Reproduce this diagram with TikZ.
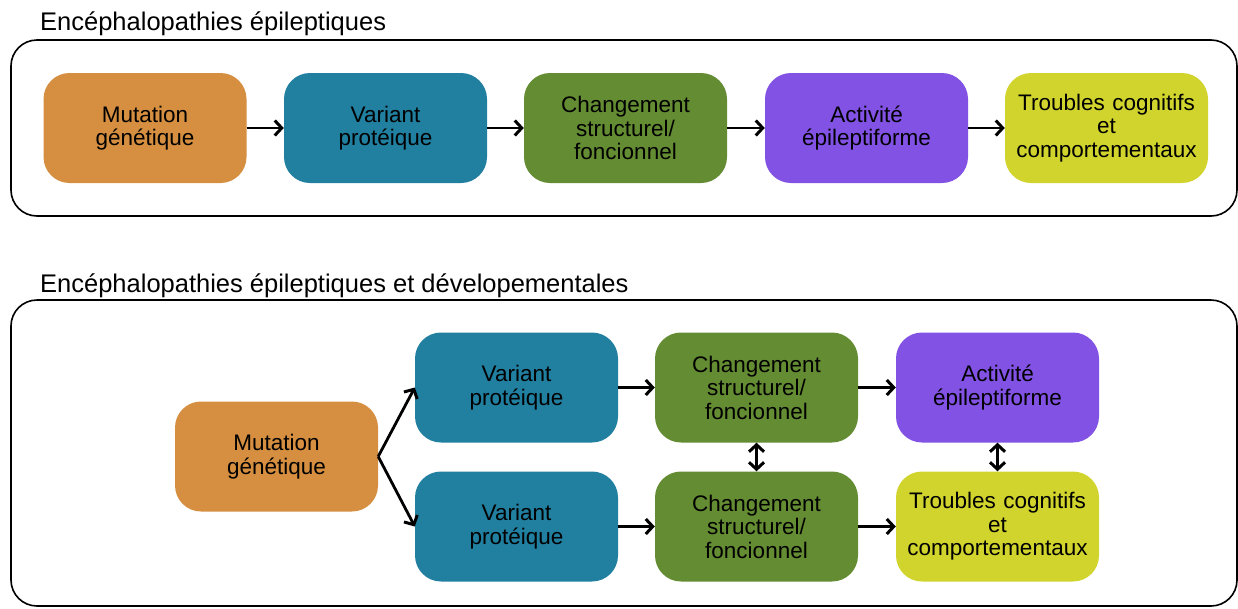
\documentclass[tikz,border=0pt]{standalone}
\usepackage{fontspec}
\setmainfont{Liberation Sans}
\usetikzlibrary{arrows.meta}
\definecolor{corange}{HTML}{D68F40}
\definecolor{cblue}{HTML}{217FA0}
\definecolor{cgreen}{HTML}{648C32}
\definecolor{cpurple}{HTML}{8252E4}
\definecolor{cyellow}{HTML}{D2D42E}
\tikzset{
  box/.style={rounded corners=26pt, minimum width=203pt, minimum height=110pt, inner sep=0pt,
    align=center, text width=200pt, font=\fontsize{22.5}{23.5}\selectfont},
  frame/.style={draw=black, line width=1.6pt, rounded corners=26pt},
  title/.style={anchor=base west, inner sep=0pt, font=\fontsize{25.5}{28}\selectfont},
  arr/.style={line width=2.8pt, -{Straight Barb[length=7pt,width=15pt,line width=3pt]}},
  darr/.style={line width=2.8pt, {Straight Barb[length=7pt,width=15pt,line width=3pt]}-{Straight Barb[length=7pt,width=15pt,line width=3pt]}}
}
\begin{document}
\begin{tikzpicture}[x=1pt,y=-1pt]
\useasboundingbox (0,0) rectangle (1238,608);
% top
\node[title] (t1) at (40,30) {Encéphalopathies épileptiques};
\draw[frame] (11,40) rectangle (1237,216);
\node[box, fill=corange] (a1) at (145,128) {Mutation\\génétique};
\node[box, fill=cblue] (a2) at (385.5,128) {Variant\\protéique};
\node[box, fill=cgreen] (a3) at (625.5,128) {Changement\\structurel/\\foncionnel};
\node[box, fill=cpurple] (a4) at (866.5,128) {Activité\\épileptiforme};
\node[box, fill=cyellow] (a5) at (1106.5,128) {Troubles cognitifs\\et\\comportementaux};
\draw[arr] (a1) -- (a2);
\draw[arr] (a2) -- (a3);
\draw[arr] (a3) -- (a4);
\draw[arr] (a4) -- (a5);
% bottom
\node[title] (t2) at (40,292) {Encéphalopathies épileptiques et dévelopementales};
\draw[frame] (11,300) rectangle (1237,606);
\node[box, fill=corange] (b1) at (276.5,456.5) {Mutation\\génétique};
\node[box, fill=cblue] (b2) at (516.5,387.5) {Variant\\protéique};
\node[box, fill=cblue] (b3) at (516.5,526.5) {Variant\\protéique};
\node[box, fill=cgreen] (b4) at (756.5,387.5) {Changement\\structurel/\\foncionnel};
\node[box, fill=cgreen] (b5) at (756.5,526.5) {Changement\\structurel/\\foncionnel};
\node[box, fill=cpurple] (b6) at (997.5,387.5) {Activité\\épileptiforme};
\node[box, fill=cyellow] (b7) at (997.5,526.5) {Troubles cognitifs\\et\\comportementaux};
\draw[arr] (b1.east) -- (b2.west);
\draw[arr] (b1.east) -- (b3.west);
\draw[arr] (b2) -- (b4);
\draw[arr] (b3) -- (b5);
\draw[arr] (b4) -- (b6);
\draw[arr] (b5) -- (b7);
\draw[darr] (b4) -- (b5);
\draw[darr] (b6) -- (b7);
\end{tikzpicture}
\end{document}
